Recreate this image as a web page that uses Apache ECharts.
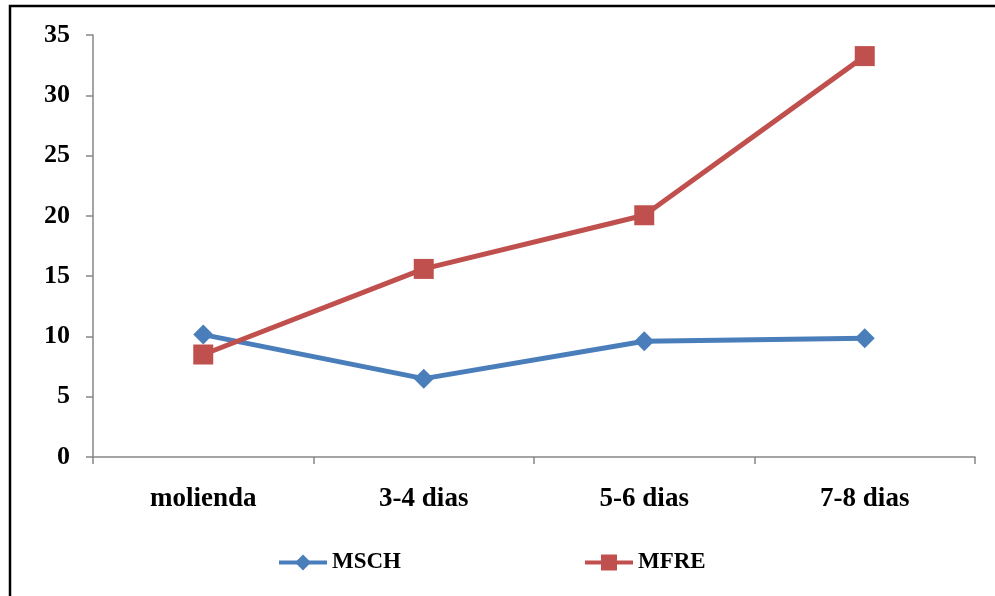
<!DOCTYPE html>
<html>
<head>
<meta charset="utf-8">
<script src="https://cdn.jsdelivr.net/npm/echarts@6/dist/echarts.min.js"></script>
<style>
  html, body { margin: 0; padding: 0; background: #fff; }
  #chart { width: 995px; height: 596px; }
</style>
</head>
<body>
<div id="chart"></div>
<script>
// Categories and series values
const categories = ['molienda', '3-4 dias', '5-6 dias', '7-8 dias'];
const mschValues = [10.15, 6.5, 9.6, 9.85];
const mfreValues = [8.5, 15.6, 20.05, 33.25];
const seriesNames = ['MSCH', 'MFRE'];

const font = 'Liberation Serif, Times New Roman, serif';
const axisGray = '#868686';

const chart = echarts.init(document.getElementById('chart'));
chart.setOption({
  animation: false,
  backgroundColor: '#ffffff',
  graphic: [{
    type: 'rect',
    shape: { x: 10, y: 6, width: 1000, height: 620 },
    style: { fill: 'none', stroke: '#000', lineWidth: 2.5 },
    silent: true
  }],
  grid: { left: 93, right: 20, top: 35, bottom: 139 },
  legend: {
    top: 551,
    left: 277,
    padding: 0,
    itemGap: 182,
    itemWidth: 48,
    itemHeight: 20,
    data: seriesNames,
    lineStyle: { width: 4 },
    textStyle: { fontFamily: font, fontWeight: 'bold', fontSize: 23, color: '#000', padding: [0, 0, 0, 0] }
  },
  xAxis: {
    type: 'category',
    data: categories,
    boundaryGap: true,
    axisLine: { lineStyle: { color: axisGray, width: 1.5 } },
    axisTick: { show: true, length: 7, alignWithLabel: false, lineStyle: { color: axisGray, width: 1.5 } },
    axisLabel: { margin: 29, fontFamily: font, fontWeight: 'bold', fontSize: 27, color: '#000' },
    splitLine: { show: false }
  },
  yAxis: {
    type: 'value',
    min: 0,
    max: 35,
    interval: 5,
    axisLine: { show: true, lineStyle: { color: axisGray, width: 1.5 } },
    axisTick: { show: true, length: 7, lineStyle: { color: axisGray, width: 1.5 } },
    axisLabel: { margin: 23, fontFamily: font, fontWeight: 'bold', fontSize: 26, color: '#000' },
    splitLine: { show: false }
  },
  series: [
    {
      name: seriesNames[0],
      type: 'line',
      data: mschValues,
      symbol: 'diamond',
      symbolSize: 20,
      itemStyle: { color: '#4A7EBB' },
      lineStyle: { color: '#4A7EBB', width: 5 }
    },
    {
      name: seriesNames[1],
      type: 'line',
      data: mfreValues,
      symbol: 'rect',
      symbolSize: 20,
      itemStyle: { color: '#C0504D' },
      lineStyle: { color: '#C0504D', width: 5 }
    }
  ]
});
</script>
</body>
</html>
